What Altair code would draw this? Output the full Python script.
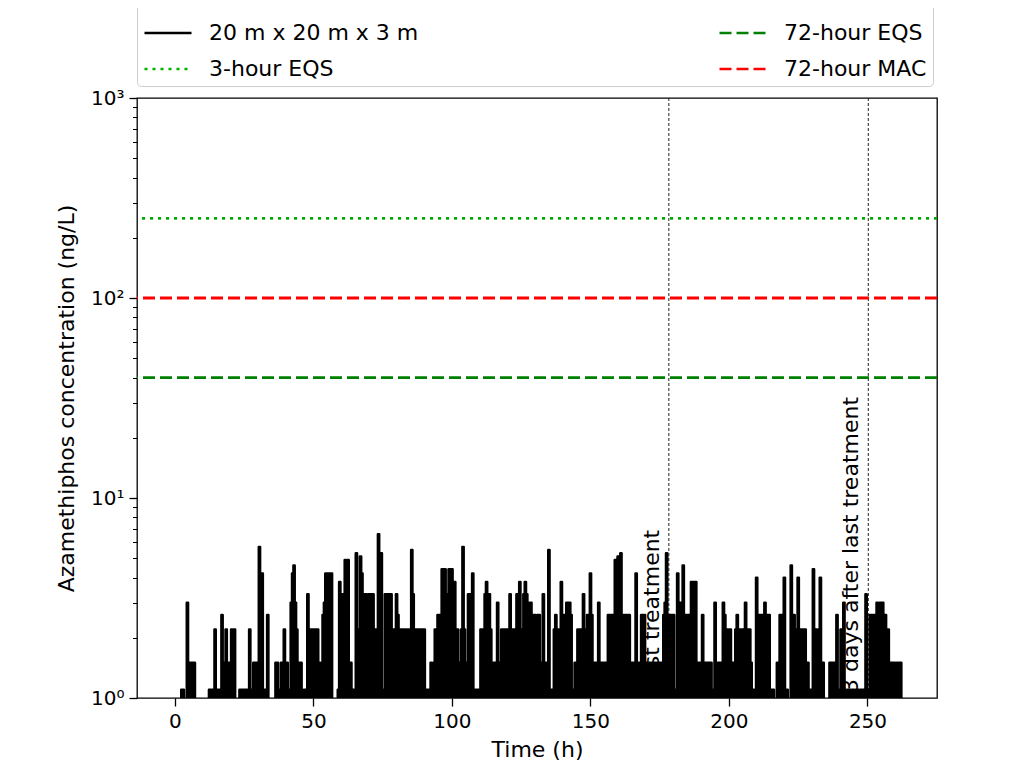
import altair as alt
import pandas as pd

# ---------------- data ----------------
STEP_H = 0.5  # sampling interval of the series (hours)

day0 = [0, 0, 0, 0, 0, 1.1, 1.1, 0, 0, 3.0, 1.5, 1.5, 1.5, 1.5, 1.5, 0, 0, 0, 0, 0,
        0, 0, 0, 0, 0, 1.1, 1.1, 1.1, 1.1, 2.2, 1.1, 1.1, 1.1, 1.1, 2.6, 1.1, 1.5, 2.2, 1.5, 1.5,
        1.5, 2.2, 1.5, 2.2, 0, 0, 0, 1.1]
day1 = [1.1, 1.1, 1.1, 1.1, 1.1, 1.1, 2.2, 1.1, 1.1, 1.5, 1.5, 1.5, 1.5, 5.7, 1.5, 4.2, 1.1, 1.1, 1.1, 2.6,
        0, 0, 0, 0, 0, 1.5, 1.5, 1.1, 1.1, 1.5, 1.5, 2.2, 1.5, 1.5, 1.1, 1.1, 3.0, 4.2, 4.6, 3.0,
        2.2, 1.5, 1.5, 1.5, 1.1, 0, 1.1, 1.1]
day2 = [3.3, 2.2, 2.2, 2.2, 2.2, 2.2, 2.2, 2.2, 1.5, 1.1, 1.5, 2.6, 3.0, 4.2, 4.2, 4.2, 4.2, 4.2, 0, 0,
        0, 0, 1.1, 3.8, 3.3, 3.3, 2.6, 4.9, 2.2, 4.9, 1.5, 1.5, 0, 1.1, 1.1, 5.3, 2.2, 2.2, 5.1, 4.2,
        3.3, 3.3, 3.3, 1.5, 3.3, 3.3, 3.3, 3.3]
day3 = [2.2, 2.2, 2.2, 6.6, 2.2, 5.3, 1.1, 1.1, 3.3, 3.3, 3.3, 3.3, 3.3, 2.2, 2.2, 2.2, 3.3, 2.6, 2.2, 2.2,
        2.2, 2.2, 2.2, 1.5, 2.2, 1.5, 2.2, 5.5, 3.3, 2.2, 2.2, 2.2, 2.2, 2.2, 2.2, 2.2, 2.2, 1.1, 1.1, 1.1,
        1.1, 1.5, 1.1, 1.5, 2.2, 1.5, 2.6, 2.6]
day4 = [2.6, 4.4, 4.4, 4.4, 3.3, 3.3, 4.4, 4.4, 4.4, 2.2, 3.8, 2.2, 2.2, 1.5, 0, 2.2, 5.7, 2.2, 1.5, 1.5,
        3.3, 3.3, 3.3, 4.2, 1.1, 1.1, 1.1, 1.1, 1.1, 2.2, 2.2, 2.2, 3.3, 3.8, 3.3, 3.3, 2.2, 1.5, 1.5, 1.5,
        1.5, 3.0, 1.5, 1.5, 2.2, 2.2, 2.2, 2.2]
day5 = [2.2, 2.2, 3.3, 2.2, 2.2, 2.2, 1.5, 3.3, 3.3, 3.8, 2.2, 1.5, 3.3, 3.8, 3.3, 3.0, 2.2, 3.0, 2.6, 2.6,
        2.6, 2.2, 2.6, 2.6, 1.5, 1.5, 3.3, 1.5, 1.5, 1.5, 5.5, 1.1, 1.1, 1.1, 2.2, 2.6, 2.2, 2.2, 2.2, 3.8,
        2.6, 2.6, 1.5, 3.0, 3.0, 3.0, 2.6, 1.1]
day6 = [1.1, 1.5, 1.5, 2.2, 2.2, 2.2, 2.2, 3.3, 2.2, 2.2, 2.6, 2.6, 4.2, 2.6, 1.5, 1.5, 1.5, 1.5, 3.0, 1.5,
        1.5, 1.5, 1.5, 1.5, 1.5, 2.6, 2.6, 2.6, 2.6, 2.6, 4.9, 2.6, 5.1, 2.6, 5.3, 2.6, 2.6, 2.6, 2.6, 2.6,
        2.6, 1.5, 1.5, 1.5, 1.5, 4.2, 1.5, 1.5]
day7 = [1.5, 2.6, 2.6, 2.6, 1.5, 1.1, 1.5, 1.5, 1.1, 1.5, 1.5, 1.5, 1.1, 1.5, 1.5, 1.5, 1.1, 2.6, 3.0, 5.3,
        2.6, 2.6, 2.6, 2.6, 2.6, 1.1, 1.1, 4.2, 1.1, 3.0, 3.0, 4.6, 2.6, 2.6, 2.6, 2.6, 1.1, 3.8, 3.8, 3.8,
        3.8, 1.5, 1.5, 1.5, 1.5, 2.6, 1.5, 1.5]
day8 = [1.5, 1.5, 1.5, 1.5, 1.1, 1.1, 3.0, 1.5, 1.5, 1.5, 1.5, 1.5, 3.0, 2.6, 2.2, 2.2, 1.5, 2.2, 1.5, 1.5,
        1.5, 2.2, 2.6, 1.5, 2.2, 2.2, 2.2, 1.5, 3.0, 2.2, 2.2, 2.2, 1.5, 1.1, 1.1, 1.1, 4.0, 2.6, 2.6, 2.6,
        2.6, 2.6, 3.0, 2.6, 2.6, 2.6, 0, 1.1]
day9 = [1.1, 0, 0, 1.5, 1.5, 2.6, 2.6, 2.6, 4.0, 1.1, 1.1, 0, 0, 4.6, 2.6, 2.6, 2.2, 2.2, 4.0, 2.2,
        2.2, 2.2, 2.2, 2.2, 1.5, 1.5, 1.1, 1.1, 1.1, 4.4, 1.5, 2.2, 1.5, 2.2, 4.0, 1.5, 1.5, 0, 0, 0,
        0, 1.5, 1.5, 1.5, 1.5, 1.5, 2.6, 1.1]
day10 = [1.1, 2.2, 1.1, 3.0, 1.1, 0, 1.1, 1.1, 0, 1.1, 1.1, 0, 1.1, 1.1, 0, 1.1, 1.1, 1.1, 1.1, 3.3,
         1.1, 1.1, 2.6, 2.6, 2.6, 2.6, 2.6, 3.0, 2.2, 3.0, 3.0, 3.0, 2.2, 2.6, 2.2, 2.2, 1.1, 1.5, 1.5, 1.5,
         1.1, 1.5, 0, 1.5, 1.5, 0, 0, 0]

series_name = "20 m x 20 m x 3 m"

threshold_names = ["3-hour EQS", "72-hour EQS", "72-hour MAC"]
threshold_values = [250, 40, 100]

event_times = [178.3, 250.3]
event_labels = ["Last treatment", "3 days after last treatment"]

x_ticks = [0, 50, 100, 150, 200, 250]
y_major = [1, 10, 100, 1000]
y_minor = [2, 3, 4, 5, 6, 7, 8, 9, 20, 30, 40, 50, 60, 70, 80, 90,
           200, 300, 400, 500, 600, 700, 800, 900]

# ---------------- tables ----------------
conc = day0 + day1 + day2 + day3 + day4 + day5 + day6 + day7 + day8 + day9 + day10
FLOOR = 0.3  # zero concentrations fall below the log axis (clipped)
df = pd.DataFrame({
    "t": [i * STEP_H for i in range(len(conc))],
    "c": [v if v > 0 else FLOOR for v in conc],
    "series": series_name,
})
th_df = pd.DataFrame({"series": threshold_names, "value": threshold_values})
ev_df = pd.DataFrame({"t": event_times, "label": event_labels})

# legend entries fill columns first: col 1 = series + 3-hour EQS, col 2 = 72-hour lines
legend_order = [series_name, "3-hour EQS", "72-hour EQS", "72-hour MAC"]
legend_colors = ["black", "#00b000", "#008000", "#ff0000"]
legend_dashes = [[1, 0], [3, 5], [12, 5], [12, 5]]

FONT = "DejaVu Sans"

xscale = alt.Scale(domain=[-13.7, 275.1], nice=False, zero=False)
yscale = alt.Scale(type="log", domain=[1, 1000], nice=False)

legend = alt.Legend(
    title=None, orient="none", legendX=0, legendY=-96, columns=2,
    symbolType="stroke", symbolSize=2209, symbolStrokeWidth=2.5,
    labelFontSize=22, labelFont=FONT, labelColor="black", labelOffset=16,
    labelLimit=0, columnPadding=295, rowPadding=-2, padding=6,
    strokeColor="#cccccc", fillColor="white", cornerRadius=4,
)
color_enc = alt.Color("series:N", scale=alt.Scale(domain=legend_order, range=legend_colors), legend=legend)
dash_enc = alt.StrokeDash("series:N", scale=alt.Scale(domain=legend_order, range=legend_dashes), legend=legend)

major_test = "indexof([1, 10, 100, 1000], datum.value) >= 0"
y_axis = alt.Axis(
    values=y_major + y_minor,
    labelExpr="datum.value == 1 ? '10⁰' : datum.value == 10 ? '10¹' : datum.value == 100 ? '10²' : datum.value == 1000 ? '10³' : ''",
    tickSize={"condition": {"test": major_test, "value": 8}, "value": 4.5},
    tickWidth={"condition": {"test": major_test, "value": 1.3}, "value": 1.0},
    tickColor="black", domain=False, grid=False,
    labelFontSize=20, labelFont=FONT, labelColor="black", labelPadding=5,
    title="Azamethiphos concentration (ng/L)", titleFontSize=22, titleFont=FONT,
    titleFontWeight="normal", titleColor="black", titlePadding=12,
)
x_axis = alt.Axis(
    values=x_ticks, format="d", tickSize=8, tickWidth=1.3, tickColor="black",
    domain=False, grid=False, labelFontSize=20, labelFont=FONT, labelColor="black",
    labelPadding=5, title="Time (h)", titleFontSize=22, titleFont=FONT,
    titleFontWeight="normal", titleColor="black", titlePadding=8,
)

vlines = alt.Chart(ev_df).mark_rule(strokeWidth=1, strokeDash=[3, 2], color="#222222").encode(
    x=alt.X("t:Q", scale=xscale, axis=x_axis)
)
labels = alt.Chart(ev_df).mark_text(
    angle=270, align="left", baseline="bottom", dy=-5, fontSize=22, font=FONT, color="black", clip=True
).encode(
    x=alt.X("t:Q", scale=xscale),
    y=alt.datum(1.06, scale=yscale),
    text="label:N",
)
fill = alt.Chart(df).mark_area(clip=True, interpolate="step", color="black").encode(
    x=alt.X("t:Q", scale=xscale),
    y=alt.Y("c:Q", scale=yscale),
    y2=alt.datum(FLOOR),
)
line = alt.Chart(df).mark_line(clip=True, strokeWidth=2.4, strokeJoin="round", interpolate="step").encode(
    x=alt.X("t:Q", scale=xscale, axis=x_axis),
    y=alt.Y("c:Q", scale=yscale, axis=y_axis),
    color=color_enc,
    strokeDash=dash_enc,
)
hlines = alt.Chart(th_df).mark_rule(strokeWidth=2.8).encode(
    y=alt.Y("value:Q", scale=yscale),
    color=color_enc,
    strokeDash=dash_enc,
)

chart = alt.layer(vlines, labels, fill, line, hlines).properties(
    width=800, height=600,
    autosize=alt.AutoSizeParams(type="none"),
    padding={"left": 129, "top": 90, "right": 89, "bottom": 70},
).configure_view(stroke="black", strokeWidth=1.3)

chart.save("out.html", embed_options={"renderer": "svg", "actions": False})
